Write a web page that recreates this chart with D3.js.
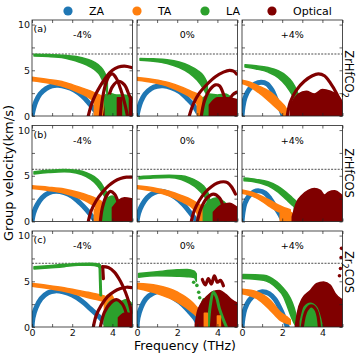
<!DOCTYPE html>
<html>
<head>
<meta charset="utf-8">
<script src="https://cdn.jsdelivr.net/npm/d3@7"></script>
<style>
body { margin: 0; background: #fff; }
text { font-family: "DejaVu Sans", sans-serif; }
</style>
</head>
<body>
<svg width="356" height="353"></svg>
<script>
//labels
var strains = ["-4%", "0%", "+4%"];
var tags = ["(a)", "(b)", "(c)"];
var compounds = [["ZrHfCO", "2", ""], ["ZrHfCOS", "", ""], ["Zr", "2", "COS"]];
var cutoff = [6.78, 5.71, 6.97];
var branchNames = ["ZA", "TA", "LA", "Optical"];
var branchColors = ["#1f77b4", "#ff7f0e", "#2ca02c", "#800000"];
var xTicks = [0, 1, 2, 3, 4, 5], xLabels = [0, 2, 4];
var yTicks = [0, 2.5, 5, 7.5, 10], yLabels = [0, 5, 10];

//branches: [f, v] points = thick line, [f, lo, hi] points = band, single point = dot
//each row array holds the -4%, 0%, +4% panels
var zaA = [
    [[[0,0],[0.08,0.8],[0.2,1.6],[0.4,2.4],[0.7,3.0],[1.0,3.3],[1.3,3.35],[1.7,3.2],[2.1,2.85],[2.5,2.2],[2.8,1.5],[3.1,0.7],[3.35,0]]],
    [[[0,0],[0.08,0.8],[0.2,1.6],[0.4,2.4],[0.7,3.0],[1.0,3.25],[1.3,3.3],[1.7,3.1],[2.1,2.7],[2.5,1.9],[2.8,1.2],[3.0,0.5],[3.15,0]]],
    [[[0,0],[0.05,1.0],[0.15,2.0],[0.35,2.9],[0.65,3.5],[0.95,3.7],[1.25,3.5],[1.5,2.8],[1.7,1.8],[1.9,0.9],[2.05,0]]]
];
var zaB = [
    [[[0,0],[0.08,0.9],[0.25,1.8],[0.5,2.6],[0.85,3.15],[1.2,3.3],[1.6,3.15],[2.0,2.75],[2.4,2.0],[2.75,1.2],[3.0,0.5],[3.2,0]]],
    [[[0,0],[0.08,0.9],[0.25,1.8],[0.5,2.6],[0.85,3.15],[1.2,3.3],[1.55,3.1],[1.9,2.65],[2.3,1.9],[2.6,1.1],[2.85,0.4],[3.0,0]]],
    [[[0,0],[0.05,1.0],[0.15,2.0],[0.35,2.8],[0.6,3.25],[0.85,3.35],[1.15,3.1],[1.4,2.5],[1.65,1.6],[1.9,0.7],[2.05,0]]]
];
var zaC = [
    [[[0,0],[0.05,1.0],[0.2,2.1],[0.45,3.1],[0.8,3.75],[1.15,3.95],[1.55,3.85],[2.0,3.5],[2.5,2.8],[2.9,2.0],[3.3,1.2],[3.6,0.5],[3.85,0]]],
    [[[0,0],[0.05,1.0],[0.2,2.1],[0.45,3.1],[0.8,3.7],[1.15,3.9],[1.5,3.65],[1.8,3.2],[2.2,2.6],[2.6,1.7],[2.9,0.9],[3.1,0]]],
    [[[0,0],[0.05,1.0],[0.15,2.0],[0.35,2.9],[0.65,3.55],[1.0,3.85],[1.35,3.65],[1.65,3.0],[1.9,2.0],[2.1,1.0],[2.25,0]]]
];

var taA = [
    [[[0,3.85,4.25],[0.8,3.6,4.0],[1.6,3.2,3.7],[2.3,2.6,3.2],[2.9,1.9,2.75],[3.3,1.2,2.35],[3.6,0.4,2.0]],
     [[3.1,0,1.5],[3.3,0,1.9],[3.7,0,1.9],[4.1,0,1.8],[4.3,0,0.8],[4.6,0,1.0]]],
    [[[0,3.9,4.2],[0.8,3.65,4.0],[1.6,3.2,3.65],[2.3,2.5,3.1],[2.8,1.8,2.6],[3.1,1.0,2.3],[3.3,0.3,1.9]],
     [[3.0,0,1.5],[3.3,0,1.8],[3.7,0,1.7],[4.0,0,1.2]]],
    [[[0,3.55,3.9],[0.4,3.2,3.7],[0.8,2.6,3.3],[1.2,1.9,2.9],[1.6,1.1,2.3],[1.9,0.5,1.6],[2.15,0,1.0],[2.3,0,0.4]]]
];
var taB = [
    [[[0,3.6,3.9],[0.8,3.4,3.75],[1.6,3.1,3.55],[2.3,2.6,3.2],[2.8,2.1,2.85],[3.2,1.5,2.5],[3.45,0.8,2.2]],
     [[3.1,0,1.3],[3.3,0,1.7],[3.6,0,1.8],[3.9,0,1.5],[4.2,0,1.0]]],
    [[[0,3.6,3.9],[0.8,3.3,3.7],[1.6,2.8,3.3],[2.2,2.2,2.85],[2.7,1.6,2.4],[3.0,0.9,2.0],[3.2,0.3,1.7]],
     [[3.0,0,1.3],[3.3,0,1.6],[3.7,0,1.5],[4.0,0,1.0]]],
    [[[0,3.1,3.45],[0.5,2.8,3.2],[1.0,2.2,2.75],[1.4,1.6,2.3],[1.8,1.1,1.8],[2.1,0.9,1.5],[2.4,0.7,1.3]],
     [[1.9,0,0.9],[2.2,0,1.2],[2.5,0,0.9]]]
];
var taC = [
    [[[0,4.45,4.75],[0.8,4.2,4.55],[1.6,3.9,4.3],[2.3,3.5,4.0],[2.8,3.2,3.8],[3.2,3.0,3.6],[3.6,2.8,3.4]],
     [[3.6,0,3.2],[3.9,0,3.6],[4.2,0,2.5],[4.5,0,2.0]]],
    [[[0,4.2,4.75],[1.0,3.65,4.55],[2.0,2.74,3.83],[2.8,1.5,2.6],[3.1,0.9,1.8],[3.2,0.6,1.4]]],
    [[[0,3.65,4.12],[0.75,3.1,3.83],[1.41,1.82,2.92],[1.9,0.73,1.64],[2.24,0.4,1.1],[2.4,0.3,0.8]]]
];

var laA = [
    [[[0.1,6.55,6.75],[0.8,6.5,6.72],[1.6,6.35,6.65],[2.2,6.0,6.5],[2.7,5.6,6.25],[3.1,5.1,5.9],[3.4,4.4,5.4],[3.6,3.4,4.8],[3.75,2.4,4.0]],
     [[3.6,0,2.2],[3.8,0,2.5],[4.2,0,2.3],[4.6,0,2.3],[4.95,0,2.1]]],
    [[[0.15,6.1,6.3],[0.8,6.0,6.25],[1.5,5.75,6.15],[2.1,5.3,5.9],[2.6,4.7,5.5],[3.0,3.9,5.0],[3.3,3.0,4.4],[3.5,2.2,3.6]],
     [[3.3,0,2.0],[3.6,0,2.4],[4.0,0,2.3],[4.4,0,2.4],[4.7,0,2.0]]],
    [[[0.15,5.35,5.6],[0.7,5.15,5.5],[1.3,4.8,5.3],[1.8,4.2,4.95],[2.2,3.3,4.4],[2.5,2.3,3.7],[2.7,1.3,2.9],[2.85,0.4,2.0],[2.95,0,1.2]],
     [[2.9,0,1.0],[3.2,0,1.8],[3.5,0,2.2],[3.8,0,1.6]]]
];
var laB = [
    [[[0.1,5.2,5.45],[0.8,5.35,5.6],[1.6,5.45,5.7],[2.2,5.3,5.6],[2.7,4.9,5.35],[3.1,4.3,4.9],[3.4,3.5,4.3],[3.6,2.8,3.6],[3.75,2.1,3.1]],
     [[3.5,0,1.5],[3.7,0,2.4],[4.0,0,2.8],[4.3,0,2.2],[4.6,0,2.0],[4.95,0,1.8]]],
    [[[0.1,4.65,4.9],[0.8,4.75,5.0],[1.6,4.8,5.05],[2.2,4.6,5.0],[2.6,4.2,4.8],[3.0,3.6,4.4],[3.3,2.9,3.9],[3.5,2.2,3.3],[3.6,1.5,2.7]],
     [[3.3,0,1.5],[3.6,0,2.3],[4.0,0,2.6],[4.3,0,2.2],[4.6,0,1.5]]],
    [[[0.1,4.45,4.75],[0.7,4.3,4.6],[1.3,3.9,4.35],[1.8,3.2,3.85],[2.2,2.4,3.2],[2.5,1.8,2.6],[2.7,1.5,2.2]],
     [[2.6,0,1.6],[3.0,0,2.2],[3.5,0,2.0],[4.0,0,1.5]]]
];
var laC = [
    [[[0.1,6.35,6.6],[0.8,6.45,6.7],[1.6,6.6,6.85],[2.3,6.75,6.95],[2.9,6.75,6.97],[3.3,6.6,6.9],[3.4,6.3,6.8]],
     [[3.6,0,1.5],[3.8,0,2.6],[4.1,0,3.0],[4.4,0,2.8],[4.7,0,3.0],[4.95,0,2.6]]],
    [[[0.08,5.45,5.85],[1.0,5.6,6.05],[2.0,5.55,6.25],[2.5,5.5,6.3],[2.85,5.4,6.1],[2.95,5.0,5.8]],
     [[3.15,0,2.0],[3.3,0,3.1],[3.5,0,2.6],[3.6,0,1.0]]],
    [[[0.05,5.3,5.73],[1.08,5.1,5.66],[1.74,4.2,4.93],[2.07,3.3,4.2],[2.3,2.0,3.55],[2.49,0.9,2.74],[2.65,0.2,1.64],[2.74,0,0.55]]]
];

var opA = [
    [[[2.8,0],[2.95,1.2],[3.15,2.3],[3.4,3.3],[3.7,4.3],[4.0,5.0],[4.3,5.35],[4.6,5.45],[4.95,5.3]],
     [[3.4,0],[3.5,1.8],[3.65,3.4],[3.85,4.4],[4.0,4.6],[4.2,4.1],[4.4,3.0],[4.6,1.5],[4.75,0]],
     [[3.6,0],[3.8,2.0],[4.0,3.2],[4.3,3.8],[4.6,3.4],[4.85,2.2],[5.0,1.6]],
     [[4.25,0,2.0],[4.45,0,2.0]],
     [[4.85,0,2.0],[5.0,0,2.0]]],
    [[[2.6,0],[2.8,1.3],[3.1,2.5],[3.5,3.5],[3.9,4.3],[4.3,4.8],[4.6,5.0],[4.8,4.9],[4.95,4.6]],
     [[3.2,0],[3.35,1.6],[3.6,2.8],[3.9,3.4],[4.1,3.3],[4.3,2.4],[4.45,1.2],[4.55,0]],
     [[4.4,0],[4.55,1.5],[4.75,2.3],[4.95,2.6]],
     [[3.6,0,1.2],[4.0,0,2.0],[4.5,0,2.0],[4.95,0,1.8]]],
    [[[2.25,0],[2.4,1.5],[2.7,2.8],[3.1,3.8],[3.5,4.4],[3.8,4.6],[4.1,4.4],[4.4,3.6],[4.7,2.5],[4.9,1.5]],
     [[2.4,0,1.2],[2.8,0,2.4],[3.2,0,2.7],[3.6,0,2.4],[4.0,0,2.9],[4.4,0,2.7],[4.8,0,2.2],[5.0,0,1.5]]]
];
var opB = [
    [[[2.8,0],[2.95,1.2],[3.2,2.3],[3.5,3.2],[3.8,3.9],[4.1,4.4],[4.4,4.7],[4.7,4.85],[4.95,4.85]],
     [[3.4,0],[3.5,1.5],[3.7,2.8],[3.9,3.3],[4.1,3.0],[4.3,2.0],[4.45,0]],
     [[4.0,0,1.5],[4.3,0,2.3],[4.6,0,2.6],[4.95,0,2.5]]],
    [[[2.7,0],[2.85,1.2],[3.1,2.3],[3.4,3.2],[3.7,3.8],[4.0,4.2],[4.3,4.35],[4.5,4.25],[4.7,3.8],[4.9,3.0]],
     [[3.0,0],[3.2,1.5],[3.5,2.6],[3.8,3.0],[4.1,2.6],[4.3,1.5],[4.4,0]],
     [[3.8,0,1.0],[4.2,0,1.8],[4.6,0,2.0],[4.95,0,1.6]]],
    [[[2.5,0,0.5],[2.7,0,2.0],[3.0,0,2.9],[3.3,0,3.4],[3.6,0,3.6],[3.9,0,3.4],[4.1,0,2.9],[4.3,0,3.2],[4.6,0,3.35],[4.9,0,3.0],[5.0,0,2.8]]]
];
var opC = [
    [[[3.5,6.6],[3.8,6.5],[4.1,6.0],[4.4,5.0],[4.65,3.8],[4.85,2.5],[4.95,1.6]],
     [[3.05,0],[3.2,1.3],[3.45,2.4],[3.75,3.3],[4.1,3.9],[4.4,4.2],[4.7,4.35],[4.95,4.3]],
     [[3.4,0],[3.6,1.6],[3.9,2.6],[4.2,3.0],[4.5,2.5],[4.7,1.4],[4.8,0]],
     [[4.3,0,1.0],[4.6,0,1.5],[4.95,0,1.5]]],
    [[[2.9,0,0.3],[3.0,0,1.6],[3.2,0,2.6],[3.5,0,3.4],[3.8,0,3.9],[4.1,0,4.0],[4.4,0,3.6],[4.7,0,3.0],[5.0,0,2.6]],
     [[3.25,5.2],[3.4,4.6],[3.55,5.3],[3.7,4.7],[3.85,5.6],[4.0,4.9],[4.15,5.1],[4.3,4.5]]],
    [[[2.65,0,0],[2.75,0,1.5],[3.0,0,3.1],[3.4,0,4.0],[3.7,0,4.75],[4.06,0,4.93],[4.4,0,4.56],[4.64,0,3.65],[4.9,0,3.1],[5.0,0,3.0]]]
];

//drawn last: [row, column, branch, shape]
var overlay = [
    [0, 0, 2, [[3.65,0,1.8],[3.85,0,2.3],[4.05,0,2.0]]],
    [2, 0, 2, [[3.38,6.6],[3.4,5.0],[3.42,3.5]]],
    [2, 0, 3, [[3.52,6.5],[3.55,5.3]]],
    [2, 1, 2, [[2.82,4.9]]],
    [2, 1, 2, [[2.98,4.55]]],
    [2, 1, 2, [[3.07,3.8]]],
    [2, 1, 2, [[3.12,3.2]]],
    [2, 1, 2, [[3.55,0],[3.65,2.4],[3.8,3.8],[3.95,3.3],[4.1,2.0],[4.3,0.8],[4.45,0]]],
    [2, 1, 1, [[3.35,0,1.5],[3.5,0,1.5]]],
    [2, 1, 1, [[4.0,0,1.2],[4.15,0,1.2]]],
    [2, 2, 2, [[2.9,0,0.6],[3.1,0,2.2],[3.4,0,2.6],[3.7,0,2.2],[3.9,0,1.0],[4.0,0,0]]],
    [2, 2, 3, [[3.0,0],[3.2,1.8],[3.45,2.3],[3.7,1.8],[3.85,0]]],
    [2, 2, 3, [[4.95,8.6]]],
    [2, 2, 3, [[4.93,7.6]]],
    [2, 2, 3, [[4.9,6.4]]],
    [2, 2, 3, [[4.85,5.6]]]
];

var rowsData = [[zaA, taA, laA, opA], [zaB, taB, laB, opB], [zaC, taC, laC, opC]];

//sizes
var svg = d3.select("svg"),
    left0 = 32, colStep = 105, pw = 100.5,
    top0 = 20, rowStep = 105.5, ph = 96,
    lineWidth = [5, 3, 3, 3.2];

var scaleX = d3.scaleLinear().domain([0, 5]).range([0, pw]);
var scaleY = d3.scaleLinear().domain([0, 10.5]).range([ph, 0]);

var line = d3.line()
    .x(d => scaleX(d[0]))
    .y(d => scaleY(d[1]))
    .curve(d3.curveCatmullRom.alpha(0.5));
var area = d3.area()
    .x(d => scaleX(d[0]))
    .y0(d => scaleY(d[1]))
    .y1(d => scaleY(d[2]))
    .curve(d3.curveMonotoneX);

function drawShape(g, shape, b) {
    var color = branchColors[b];
    if (shape.length === 1) {
        g.append("circle")
            .attr("cx", scaleX(shape[0][0]))
            .attr("cy", scaleY(shape[0][1]))
            .attr("r", 1.8)
            .attr("fill", color);
    } else if (shape[0].length === 3) {
        g.append("path")
            .attr("d", area(shape))
            .attr("fill", color)
            .attr("stroke", color)
            .attr("stroke-width", 1.5)
            .attr("stroke-linejoin", "round");
    } else {
        g.append("path")
            .attr("d", line(shape))
            .attr("fill", "none")
            .attr("stroke", color)
            .attr("stroke-width", lineWidth[b])
            .attr("stroke-linecap", "round");
    }
}

function styleAxis(g) {
    g.attr("font-family", "DejaVu Sans").attr("font-size", 9.5);
    g.select(".domain").remove();
    g.selectAll(".tick line").attr("stroke", "#222").attr("stroke-width", 0.7);
    g.selectAll(".tick text").attr("fill", "#111");
}

var panels = {};
for (var r = 0; r < 3; r++) {
    for (var c = 0; c < 3; c++) {
        var g = svg.append("g")
            .attr("transform", "translate(" + [left0 + c * colStep, top0 + r * rowStep] + ")");

        svg.append("clipPath").attr("id", "clip" + r + c)
            .append("rect").attr("width", pw).attr("height", ph);
        var gData = g.append("g").attr("clip-path", "url(#clip" + r + c + ")");
        panels[r + "_" + c] = gData;

        //cutoff line
        gData.append("line")
            .attr("x1", 0).attr("x2", pw)
            .attr("y1", scaleY(cutoff[r])).attr("y2", scaleY(cutoff[r]))
            .attr("stroke", "#000")
            .attr("stroke-width", 0.7)
            .attr("stroke-dasharray", "2,1.3");

        rowsData[r].forEach(function (branch, b) {
            branch[c].forEach(function (shape) {
                drawShape(gData, shape, b);
            });
        });

        //axes, ticks pointing inward
        var row = r, col = c;
        g.append("g").attr("transform", "translate(0," + ph + ")")
            .call(d3.axisBottom(scaleX).tickValues(xTicks).tickSize(-3).tickPadding(2)
                .tickFormat(d => (row === 2 && xLabels.indexOf(d) >= 0) ? d : ""))
            .call(styleAxis);
        g.append("g")
            .call(d3.axisTop(scaleX).tickValues(xTicks).tickSize(-3).tickFormat(""))
            .call(styleAxis);
        g.append("g")
            .call(d3.axisLeft(scaleY).tickValues(yTicks).tickSize(-3).tickPadding(2)
                .tickFormat(d => (col === 0 && yLabels.indexOf(d) >= 0) ? d : ""))
            .call(styleAxis);
        g.append("g").attr("transform", "translate(" + pw + ",0)")
            .call(d3.axisRight(scaleY).tickValues(yTicks).tickSize(-3).tickFormat(""))
            .call(styleAxis);

        //frame
        g.append("rect")
            .attr("width", pw).attr("height", ph)
            .attr("fill", "none")
            .attr("stroke", "#222")
            .attr("stroke-width", 0.8);

        //strain title
        g.append("text")
            .attr("x", pw / 2).attr("y", 18)
            .attr("text-anchor", "middle")
            .attr("font-size", 9.5)
            .text(strains[c]);
        if (c === 0) {
            g.append("text")
                .attr("x", 1.5).attr("y", 12)
                .attr("font-size", 9.5)
                .text(tags[r]);
        }
    }
}

overlay.forEach(function (o) {
    drawShape(panels[o[0] + "_" + o[1]], o[3], o[2]);
});

//compound labels on the right
var labelY = [74, 173, 272];
compounds.forEach(function (parts, r) {
    var t = svg.append("text")
        .attr("transform", "translate(345," + labelY[r] + ") rotate(90)")
        .attr("text-anchor", "middle")
        .attr("font-size", 11.5);
    t.append("tspan").text(parts[0]);
    if (parts[1]) {
        t.append("tspan").attr("font-size", 8).attr("dy", 3).text(parts[1]);
        t.append("tspan").attr("dy", -3).text(parts[2]);
    }
});

//axis titles
svg.append("text")
    .attr("transform", "translate(13,173) rotate(-90)")
    .attr("text-anchor", "middle")
    .attr("font-size", 13)
    .text("Group velocity(km/s)");
svg.append("text")
    .attr("x", 185).attr("y", 349.5)
    .attr("text-anchor", "middle")
    .attr("font-size", 12.5)
    .text("Frequency (THz)");

//legend
var legendX = [68, 137, 205, 272];
branchNames.forEach(function (name, i) {
    svg.append("circle")
        .attr("cx", legendX[i]).attr("cy", 11)
        .attr("r", 4.6)
        .attr("fill", branchColors[i]);
    svg.append("text")
        .attr("x", legendX[i] + 21).attr("y", 15)
        .attr("font-size", 11)
        .text(name);
});
</script>
</body>
</html>
